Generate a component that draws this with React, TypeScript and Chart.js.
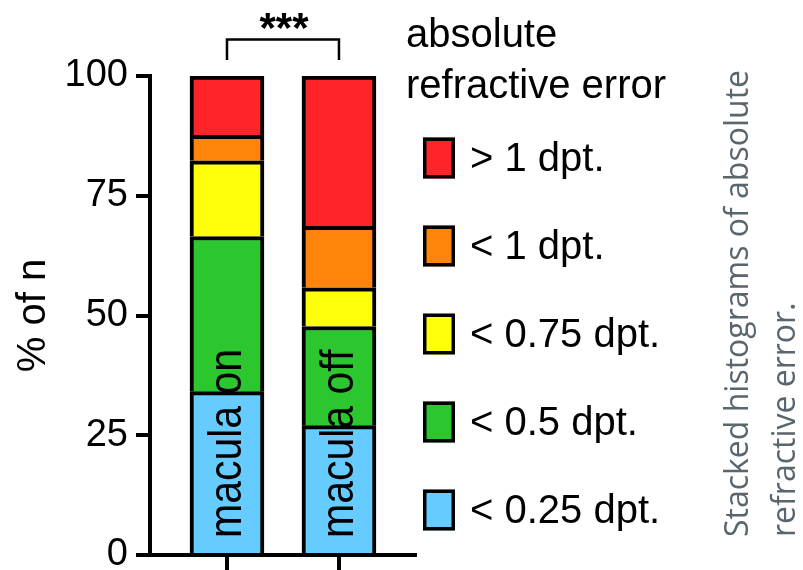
import { useEffect, useRef } from 'react';
import { Chart, registerables } from 'chart.js';

Chart.register(...registerables);

const categories = ['macula on', 'macula off'];
const seriesLabels = ['< 0.25 dpt.', '< 0.5 dpt.', '< 0.75 dpt.', '< 1 dpt.', '> 1 dpt.'];
const under025 = [34.1, 27.0];
const under05 = [32.4, 20.7];
const under075 = [15.8, 8.1];
const under1 = [5.3, 12.8];
const over1 = [12.4, 31.4];
const seriesColors = ['#66CCFF', '#2CC72F', '#FFFF0A', '#FF850A', '#FF2428'];
const yTicks = [0, 25, 50, 75, 100];
const yTitle = '% of n';
const legendTitle = ['absolute', 'refractive error'];
const significance = '***';
const caption = ['Stacked histograms of absolute', 'refractive error.'];

const FONT = '"Liberation Sans", Arial, Helvetica, sans-serif';

const overlay = {
  id: 'overlay',
  afterDatasetsDraw(chart: any) {
    const ctx = chart.ctx as CanvasRenderingContext2D;
    const xs = chart.scales.x;
    ctx.save();

    // category labels inside the bars
    ctx.fillStyle = '#000';
    ctx.font = `41px ${FONT}`;
    ctx.textAlign = 'left';
    ctx.textBaseline = 'alphabetic';
    categories.forEach((c, i) => {
      const px = xs.getPixelForValue(i);
      ctx.save();
      ctx.translate(px + 14, 538);
      ctx.rotate(-Math.PI / 2);
      ctx.scale(1, 1.12);
      ctx.fillText(c, 0, 0);
      ctx.restore();
    });

    // significance bracket
    const c0 = xs.getPixelForValue(0);
    const c1 = xs.getPixelForValue(categories.length - 1);
    ctx.strokeStyle = '#000';
    ctx.lineWidth = 2.5;
    ctx.beginPath();
    ctx.moveTo(c0, 60);
    ctx.lineTo(c0, 39.5);
    ctx.lineTo(c1, 39.5);
    ctx.lineTo(c1, 60);
    ctx.stroke();
    ctx.font = `bold 42px ${FONT}`;
    ctx.textAlign = 'center';
    ctx.fillText(significance, (c0 + c1) / 2 + 1, 42);

    // legend
    ctx.textAlign = 'left';
    ctx.font = `40px ${FONT}`;
    ctx.fillText(legendTitle[0], 406, 47);
    ctx.fillText(legendTitle[1], 406, 98);
    const ds = chart.data.datasets.slice().reverse();
    ds.forEach((d: any, i: number) => {
      const cy = 158 + 88 * i;
      ctx.fillStyle = d.backgroundColor;
      ctx.fillRect(423, cy - 20.5, 32, 41);
      ctx.strokeStyle = '#000';
      ctx.lineWidth = 3.5;
      ctx.strokeRect(424.75, cy - 18.75, 28.5, 37.5);
      ctx.fillStyle = '#000';
      ctx.fillText(d.label, 470, cy + 13);
    });

    // caption
    ctx.fillStyle = '#5a666e';
    ctx.font = `32px "Open Sans", "Noto Sans", sans-serif`;
    const baselines = [748, 795];
    caption.forEach((line, i) => {
      ctx.save();
      ctx.translate(baselines[i], 537);
      ctx.rotate(-Math.PI / 2);
      ctx.fillText(line, 0, 0);
      ctx.restore();
    });

    ctx.restore();
  },
};

export default function App() {
  const ref = useRef<HTMLCanvasElement>(null);

  useEffect(() => {
    if (!ref.current) return;
    const series = [under025, under05, under075, under1, over1];
    const chart = new Chart(ref.current, {
      type: 'bar',
      data: {
        datasets: series.map((vals, k) => ({
          label: seriesLabels[k],
          data: vals.map((v, i) => ({ x: i, y: v })),
          backgroundColor: seriesColors[k],
          borderColor: '#000',
          borderWidth: 4,
          borderSkipped: 'start',
          barThickness: 74,
        })),
      },
      options: {
        responsive: false,
        animation: false,
        events: [],
        layout: { padding: { top: 76, right: 388, bottom: 0, left: 0 } },
        plugins: {
          legend: { display: false },
          tooltip: { enabled: false },
        },
        scales: {
          x: {
            type: 'linear',
            min: -0.6875,
            max: 1.679,
            offset: false,
            bounds: 'data',
            stacked: true,
            afterBuildTicks: (axis: any) => {
              axis.ticks = categories.map((_, i) => ({ value: i }));
            },
            afterFit: (axis: any) => {
              axis.height = 15;
              axis.paddingLeft = 0;
              axis.paddingRight = 0;
            },
            ticks: { display: false },
            grid: {
              offset: false,
              drawOnChartArea: false,
              drawTicks: true,
              tickLength: 15,
              lineWidth: 4,
              color: '#000',
            },
            border: { display: true, width: 4, color: '#000' },
          },
          y: {
            type: 'linear',
            min: 0,
            max: 100,
            stacked: true,
            afterBuildTicks: (axis: any) => {
              axis.ticks = yTicks.map((v) => ({ value: v }));
            },
            afterFit: (axis: any) => {
              axis.width = 150;
              axis.paddingTop = 0;
              axis.paddingBottom = 0;
            },
            ticks: {
              color: '#000',
              font: { size: 38, family: FONT },
              padding: 8,
            },
            grid: {
              drawOnChartArea: false,
              drawTicks: true,
              tickLength: 14,
              lineWidth: 4,
              color: '#000',
            },
            border: { display: true, width: 4, color: '#000' },
            title: {
              display: true,
              text: yTitle,
              color: '#000',
              font: { size: 40, family: FONT },
              padding: { top: 10, bottom: 0 },
            },
          },
        },
      },
      plugins: [overlay],
    } as any);
    return () => chart.destroy();
  }, []);

  return (
    <div style={{ position: 'fixed', left: 0, top: 0, width: 803, height: 570, background: '#fff' }}>
      <canvas ref={ref} width={803} height={570} />
    </div>
  );
}
